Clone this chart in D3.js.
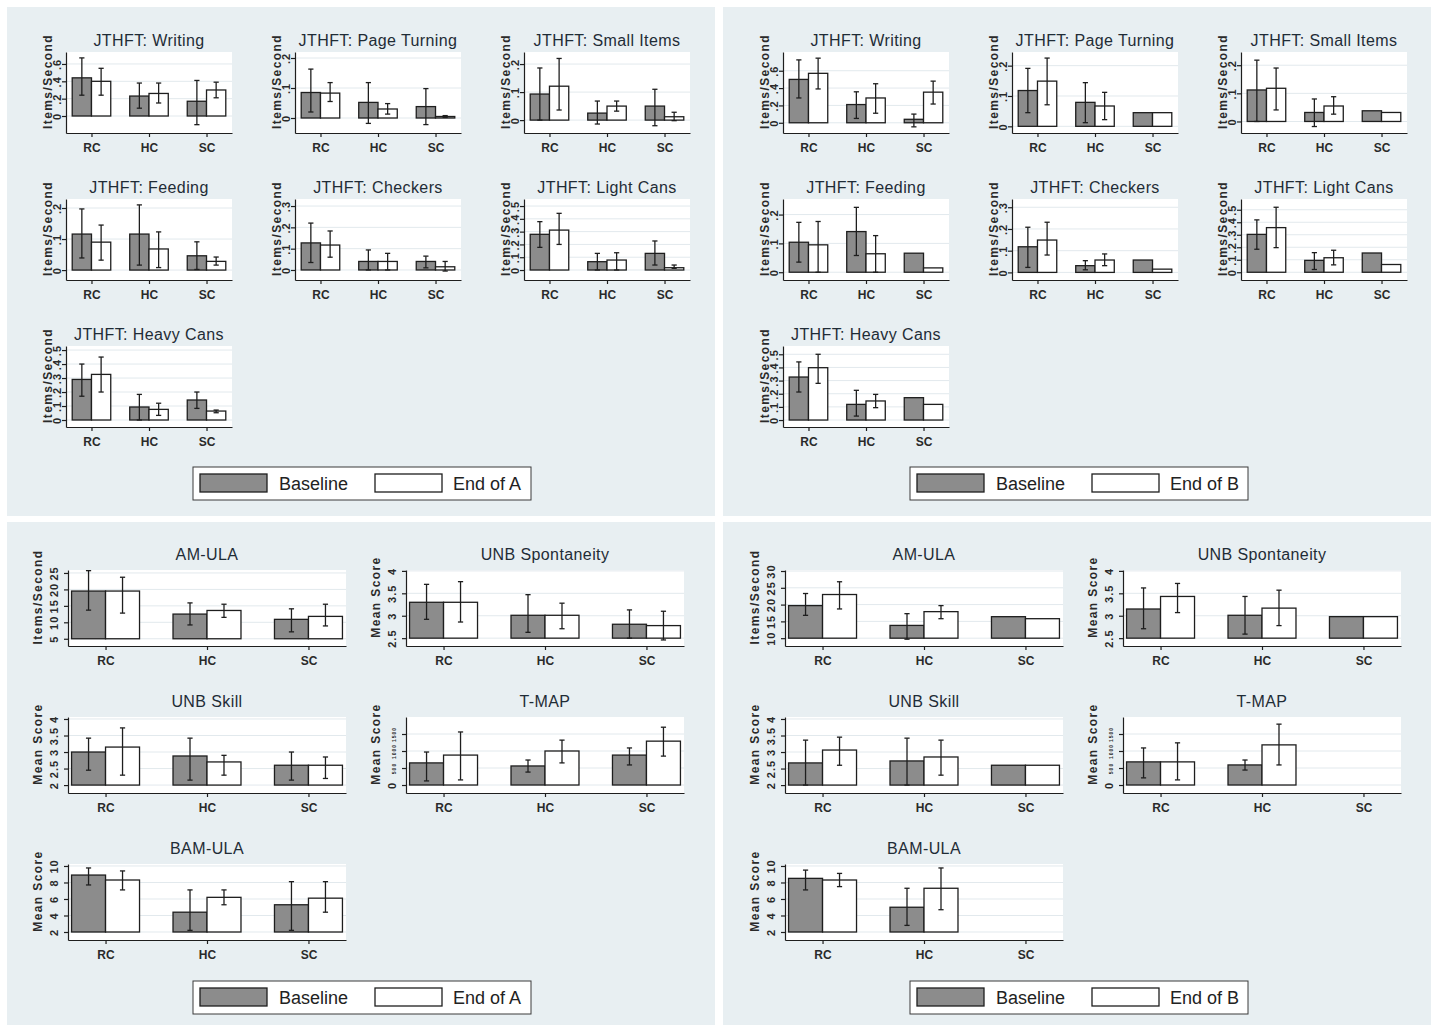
<!DOCTYPE html>
<html>
<head>
<meta charset="utf-8">
<script src="https://cdn.jsdelivr.net/npm/d3@7"></script>
<style>
  html, body { margin: 0; padding: 0; background: #ffffff; }
  svg { display: block; font-family: "Liberation Sans", Arial, sans-serif; }
</style>
</head>
<body>
<svg id="fig" width="1437" height="1027"></svg>
<script>
// ---- categories ----
const groups = ["RC", "HC", "SC"];
const legendA = ["Baseline", "End of A"];
const legendB = ["Baseline", "End of B"];

// ---- values: one [mean, lower CI, upper CI] per group (null = not plotted) ----
// Phase A, JTHFT (items/second)
const writingA_base  = [[0.44, 0.24, 0.67], [0.23, 0.09, 0.38], [0.17, -0.10, 0.41]];
const writingA_end   = [[0.40, 0.24, 0.55], [0.26, 0.15, 0.38], [0.30, 0.21, 0.39]];
const pageA_base     = [[0.085, 0.02, 0.163], [0.052, -0.018, 0.118], [0.038, -0.022, 0.098]];
const pageA_end      = [[0.083, 0.055, 0.118], [0.030, 0.013, 0.048], [0.005, 0.002, 0.008]];
const smallA_base    = [[0.093, 0.0, 0.186], [0.025, -0.014, 0.068], [0.050, -0.020, 0.110]];
const smallA_end     = [[0.121, 0.036, 0.220], [0.050, 0.032, 0.068], [0.012, -0.002, 0.028]];
const feedingA_base  = [[0.116, 0.039, 0.197], [0.116, 0.016, 0.210], [0.046, 0.002, 0.091]];
const feedingA_end   = [[0.090, 0.032, 0.145], [0.068, 0.008, 0.123], [0.028, 0.016, 0.042]];
const checkersA_base = [[0.127, 0.035, 0.220], [0.040, 0.0, 0.094], [0.040, 0.010, 0.065]];
const checkersA_end  = [[0.117, 0.060, 0.183], [0.040, 0.0, 0.078], [0.015, -0.005, 0.040]];
const lightA_base    = [[0.279, 0.177, 0.378], [0.065, 0.0, 0.130], [0.130, 0.039, 0.227]];
const lightA_end     = [[0.312, 0.200, 0.443], [0.078, 0.0, 0.135], [0.018, 0.013, 0.039]];
const heavyA_base    = [[0.290, 0.170, 0.400], [0.093, 0.0, 0.183], [0.143, 0.083, 0.200]];
const heavyA_end     = [[0.326, 0.200, 0.450], [0.076, 0.033, 0.120], [0.064, 0.052, 0.071]];

// Phase B, JTHFT (items/second)
const writingB_base  = [[0.50, 0.286, 0.725], [0.21, 0.05, 0.357], [0.04, -0.047, 0.10]];
const writingB_end   = [[0.57, 0.39, 0.745], [0.286, 0.11, 0.45], [0.353, 0.216, 0.48]];
const pageB_base     = [[0.118, 0.045, 0.191], [0.079, 0.012, 0.144], [0.045, null, null]];
const pageB_end      = [[0.149, 0.071, 0.225], [0.067, 0.022, 0.112], [0.045, null, null]];
const smallB_base    = [[0.112, 0.0, 0.218], [0.032, -0.018, 0.080], [0.038, null, null]];
const smallB_end     = [[0.118, 0.041, 0.190], [0.055, 0.026, 0.088], [0.032, null, null]];
const feedingB_base  = [[0.104, 0.035, 0.173], [0.141, 0.058, 0.225], [0.066, null, null]];
const feedingB_end   = [[0.095, 0.0, 0.176], [0.064, 0.0, 0.127], [0.015, null, null]];
const checkersB_base = [[0.118, 0.023, 0.208], [0.031, 0.012, 0.054], [0.057, null, null]];
const checkersB_end  = [[0.149, 0.080, 0.231], [0.057, 0.031, 0.085], [0.015, null, null]];
const lightB_base    = [[0.303, 0.184, 0.419], [0.095, 0.022, 0.157], [0.154, null, null]];
const lightB_end     = [[0.357, 0.197, 0.520], [0.116, 0.059, 0.176], [0.062, null, null]];
const heavyB_base    = [[0.327, 0.213, 0.442], [0.119, 0.030, 0.226], [0.170, null, null]];
const heavyB_end     = [[0.398, 0.279, 0.500], [0.145, 0.094, 0.195], [0.119, null, null]];

// Phase A, other measures
const amulaA_base    = [[19.5, 13.7, 25.7], [12.5, 9.2, 15.9], [10.9, 7.1, 14.1]];
const amulaA_end     = [[19.5, 12.8, 23.7], [13.6, 11.5, 15.5], [11.8, 8.9, 15.5]];
const sponA_base     = [[3.30, 2.92, 3.70], [3.01, 2.63, 3.47], [2.81, 2.50, 3.13]];
const sponA_end      = [[3.30, 2.86, 3.76], [3.01, 2.71, 3.28], [2.78, 2.46, 3.10]];
const skillA_base    = [[3.00, 2.45, 3.42], [2.88, 2.15, 3.42], [2.60, 2.15, 3.00]];
const skillA_end     = [[3.15, 2.30, 3.73], [2.70, 2.30, 2.90], [2.60, 2.20, 2.85]];
const tmapA_base     = [[650, 120, 970], [560, 380, 735], [880, 590, 1090]];
const tmapA_end      = [[880, 150, 1560], [1000, 650, 1320], [1290, 850, 1700]];
const bamA_base      = [[8.9, 7.7, 9.76], [4.4, 2.2, 7.1], [5.3, 2.2, 8.1]];
const bamA_end       = [[8.3, 7.1, 9.4], [6.2, 5.3, 7.1], [6.1, 4.4, 8.1]];

// Phase B, other measures
const amulaB_base    = [[19.7, 16.8, 23.3], [13.8, 9.7, 17.3], [16.4, null, null]];
const amulaB_end     = [[23.0, 18.7, 26.8], [17.9, 15.8, 19.7], [15.8, null, null]];
const sponB_base     = [[3.15, 2.71, 3.62], [3.01, 2.59, 3.43], [2.98, null, null]];
const sponB_end      = [[3.43, 3.07, 3.72], [3.17, 2.78, 3.57], [2.98, null, null]];
const skillB_base    = [[2.67, 2.00, 3.36], [2.73, 2.00, 3.42], [2.60, null, null]];
const skillB_end     = [[3.06, 2.60, 3.45], [2.85, 2.30, 3.36], [2.60, null, null]];
const tmapB_base     = [[680, 210, 1090], [590, 440, 735], null];
const tmapB_end      = [[680, 150, 1240], [1180, 590, 1790], null];
const bamB_base      = [[8.5, 7.1, 9.5], [5.0, 2.8, 7.3], null];
const bamB_end       = [[8.3, 7.5, 9.1], [7.3, 4.7, 9.76], null];

// ---- axis ticks ----
const ticksWriting  = [0, 0.2, 0.4, 0.6];
const ticksTenth2   = [0, 0.1, 0.2];
const ticksTenth3   = [0, 0.1, 0.2, 0.3];
const ticksCans     = [0, 0.1, 0.2, 0.3, 0.4, 0.5];
const ticksAmulaA   = [5, 10, 15, 20, 25];
const ticksAmulaB   = [10, 15, 20, 25, 30];
const ticksSpon     = [2.5, 3, 3.5, 4];
const ticksSkill    = [2, 2.5, 3, 3.5, 4];
const ticksTmap     = [0, 500, 1000, 1500];
const ticksBam      = [2, 4, 6, 8, 10];

// ---- chart definitions built from the arrays above ----
const topA = [
  { title: "JTHFT: Writing",      ytitle: "Items/Second", ticks: ticksWriting, domain: [-0.196, 0.738], base: 0, s: [writingA_base, writingA_end] },
  { title: "JTHFT: Page Turning", ytitle: "Items/Second", ticks: ticksTenth2,  domain: [-0.05, 0.22],   base: 0, s: [pageA_base, pageA_end] },
  { title: "JTHFT: Small Items",  ytitle: "Items/Second", ticks: ticksTenth2,  domain: [-0.046, 0.243], base: 0, s: [smallA_base, smallA_end] },
  { title: "JTHFT: Feeding",      ytitle: "Items/Second", ticks: ticksTenth2,  domain: [-0.032, 0.229], base: 0, s: [feedingA_base, feedingA_end] },
  { title: "JTHFT: Checkers",     ytitle: "Items/Second", ticks: ticksTenth3,  domain: [-0.047, 0.333], base: 0, s: [checkersA_base, checkersA_end] },
  { title: "JTHFT: Light Cans",   ytitle: "Items/Second", ticks: ticksCans,    domain: [-0.078, 0.555], base: 0, s: [lightA_base, lightA_end] },
  { title: "JTHFT: Heavy Cans",   ytitle: "Items/Second", ticks: ticksCans,    domain: [-0.05, 0.529],  base: 0, s: [heavyA_base, heavyA_end] }
];
const topB = [
  { title: "JTHFT: Writing",      ytitle: "Items/Second", ticks: ticksWriting, domain: [-0.118, 0.816], base: 0, s: [writingB_base, writingB_end] },
  { title: "JTHFT: Page Turning", ytitle: "Items/Second", ticks: ticksTenth2,  domain: [-0.022, 0.245], base: 0, s: [pageB_base, pageB_end] },
  { title: "JTHFT: Small Items",  ytitle: "Items/Second", ticks: ticksTenth2,  domain: [-0.041, 0.247], base: 0, s: [smallB_base, smallB_end] },
  { title: "JTHFT: Feeding",      ytitle: "Items/Second", ticks: ticksTenth2,  domain: [-0.027, 0.254], base: 0, s: [feedingB_base, feedingB_end] },
  { title: "JTHFT: Checkers",     ytitle: "Items/Second", ticks: ticksTenth3,  domain: [-0.035, 0.338], base: 0, s: [checkersB_base, checkersB_end] },
  { title: "JTHFT: Light Cans",   ytitle: "Items/Second", ticks: ticksCans,    domain: [-0.062, 0.586], base: 0, s: [lightB_base, lightB_end] },
  { title: "JTHFT: Heavy Cans",   ytitle: "Items/Second", ticks: ticksCans,    domain: [-0.053, 0.563], base: 0, s: [heavyB_base, heavyB_end] }
];
const botA = [
  { title: "AM-ULA",          ytitle: "Items/Second", ticks: ticksAmulaA, domain: [2.8, 25.9],    base: 5,   s: [amulaA_base, amulaA_end] },
  { title: "UNB Spontaneity", ytitle: "Mean Score",   ticks: ticksSpon,   domain: [2.325, 4.02],  base: 2.5, s: [sponA_base, sponA_end] },
  { title: "UNB Skill",       ytitle: "Mean Score",   ticks: ticksSkill,  domain: [1.76, 4.06],   base: 2,   s: [skillA_base, skillA_end] },
  { title: "T-MAP",           ytitle: "Mean Score",   ticks: ticksTmap,   domain: [-235, 2000],   base: 0,   s: [tmapA_base, tmapA_end], tinyTicks: true },
  { title: "BAM-ULA",         ytitle: "Mean Score",   ticks: ticksBam,    domain: [1.03, 10.24],  base: 2,   s: [bamA_base, bamA_end] }
];
const botB = [
  { title: "AM-ULA",          ytitle: "Items/Second", ticks: ticksAmulaB, domain: [7.67, 30.3],   base: 10,  s: [amulaB_base, amulaB_end] },
  { title: "UNB Spontaneity", ytitle: "Mean Score",   ticks: ticksSpon,   domain: [2.325, 4.02],  base: 2.5, s: [sponB_base, sponB_end] },
  { title: "UNB Skill",       ytitle: "Mean Score",   ticks: ticksSkill,  domain: [1.76, 4.06],   base: 2,   s: [skillB_base, skillB_end] },
  { title: "T-MAP",           ytitle: "Mean Score",   ticks: ticksTmap,   domain: [-235, 2000],   base: 0,   s: [tmapB_base, tmapB_end], tinyTicks: true },
  { title: "BAM-ULA",         ytitle: "Mean Score",   ticks: ticksBam,    domain: [1.03, 10.24],  base: 2,   s: [bamB_base, bamB_end] }
];

// ---- styling ----
const PANEL_BG = "#e8eff2";
const GRID = "#e2e9ed";
const INK = "#1e1e1e";
const TITLE_INK = "#1f2c36";
const BASE_FILL = "#8c8c8c";

const svg = d3.select("#fig");
svg.append("rect").attr("width", 1437).attr("height", 1027).attr("fill", "#ffffff");

// four shaded panels
const panels = [
  { x: 7,   y: 7,   w: 708, h: 509 },
  { x: 723, y: 7,   w: 708, h: 509 },
  { x: 7,   y: 522, w: 708, h: 503 },
  { x: 723, y: 522, w: 708, h: 503 }
];
svg.selectAll("rect.panel").data(panels).join("rect")
  .attr("class", "panel")
  .attr("x", d => d.x).attr("y", d => d.y)
  .attr("width", d => d.w).attr("height", d => d.h)
  .attr("fill", PANEL_BG);

// Stata-style tick labels: ".2" rather than "0.2"
const fmt = v => { const s = String(v); return s.startsWith("0.") ? s.slice(1) : s; };

function drawChart(spec, lay) {
  const g = svg.append("g");
  const { L, T, B, W, pad, big } = lay;

  const x = d3.scalePoint().domain(groups).range([L, L + W]).padding(pad);
  const step = x.step();
  const bw = step * 0.335;
  const y = d3.scaleLinear().domain(spec.domain).range([B, T]);

  // plot area
  g.append("rect").attr("x", L).attr("y", T).attr("width", W).attr("height", B - T).attr("fill", "#ffffff");

  // gridlines
  g.selectAll("line.grid").data(spec.ticks).join("line")
    .attr("x1", L).attr("x2", L + W)
    .attr("y1", d => y(d)).attr("y2", d => y(d))
    .attr("stroke", GRID).attr("stroke-width", 1);

  // bars and error bars
  const marks = [];
  spec.s.forEach((series, si) => {
    groups.forEach((grp, gi) => {
      const v = series[gi];
      if (!v) return;
      marks.push({ si, grp, mean: v[0], lo: v[1], hi: v[2] });
    });
  });
  const xPos = d => (d.si === 0 ? x(d.grp) - bw : x(d.grp));

  g.selectAll("rect.bar").data(marks).join("rect")
    .attr("x", xPos)
    .attr("y", d => y(d.mean))
    .attr("width", bw)
    .attr("height", d => y(spec.base) - y(d.mean))
    .attr("fill", d => d.si === 0 ? BASE_FILL : "#ffffff")
    .attr("stroke", INK).attr("stroke-width", 1.3);

  const errs = marks.filter(d => d.lo !== null && d.hi !== null);
  const cap = 2.6;
  const eg = g.selectAll("g.err").data(errs).join("g").attr("stroke", INK).attr("stroke-width", 1.3);
  eg.append("line")
    .attr("x1", d => xPos(d) + bw / 2).attr("x2", d => xPos(d) + bw / 2)
    .attr("y1", d => y(d.lo)).attr("y2", d => y(d.hi));
  eg.append("line")
    .attr("x1", d => xPos(d) + bw / 2 - cap).attr("x2", d => xPos(d) + bw / 2 + cap)
    .attr("y1", d => y(d.lo)).attr("y2", d => y(d.lo));
  eg.append("line")
    .attr("x1", d => xPos(d) + bw / 2 - cap).attr("x2", d => xPos(d) + bw / 2 + cap)
    .attr("y1", d => y(d.hi)).attr("y2", d => y(d.hi));

  // y axis with vertical tick labels
  const tickOff = big ? 10 : 5;
  const ya = g.append("g").attr("transform", `translate(${L},0)`)
    .call(d3.axisLeft(y).tickValues(spec.ticks).tickFormat(fmt).tickSize(4).tickSizeOuter(0));
  ya.select(".domain").attr("stroke", INK).attr("stroke-width", 1.2);
  ya.selectAll(".tick line").attr("stroke", INK).attr("stroke-width", 1.2);
  ya.selectAll(".tick text")
    .attr("transform", "rotate(-90)")
    .attr("x", 0).attr("y", -tickOff).attr("dy", 0)
    .attr("text-anchor", "middle")
    .attr("fill", "#2a2a2a")
    .style("font-family", '"Liberation Sans", Arial, sans-serif')
    .style("font-weight", "bold")
    .style("letter-spacing", "1px")
    .style("font-size", d => (spec.tinyTicks && d !== 0) ? "5px" : "11px");

  // x axis
  const xa = g.append("g").attr("transform", `translate(0,${B})`)
    .call(d3.axisBottom(x).tickSize(4).tickSizeOuter(0).tickPadding(4));
  xa.select(".domain").attr("stroke", INK).attr("stroke-width", 1.2);
  xa.selectAll(".tick line").attr("stroke", INK).attr("stroke-width", 1.2);
  xa.selectAll(".tick text")
    .attr("y", 19).attr("dy", 0)
    .attr("fill", "#2a2a2a")
    .style("font-family", '"Liberation Sans", Arial, sans-serif')
    .style("font-size", "12px")
    .style("font-weight", "bold");

  // chart title
  g.append("text")
    .attr("x", L + W / 2).attr("y", B - (big ? 86 : 87))
    .attr("text-anchor", "middle")
    .attr("fill", TITLE_INK)
    .style("font-size", "16px")
    .style("letter-spacing", "0.4px")
    .text(spec.title);

  // y-axis title
  const yt = big ? 26 : 14;
  g.append("text")
    .attr("transform", `translate(${L - yt},${(T + B) / 2 - 11}) rotate(-90)`)
    .attr("text-anchor", "middle")
    .attr("fill", "#2a2a2a")
    .style("font-size", "12px")
    .style("font-weight", "bold")
    .style("letter-spacing", "1.4px")
    .text(spec.ytitle);
}

function drawLegend(dx, top, labels) {
  const g = svg.append("g").attr("transform", `translate(${193 + dx},${top})`);
  g.append("rect").attr("width", 338).attr("height", 33)
    .attr("fill", "#ffffff").attr("stroke", "#3a3a3a").attr("stroke-width", 1);
  const items = [
    { sx: 7,   tx: 86,  fill: BASE_FILL, label: labels[0] },
    { sx: 182, tx: 260, fill: "#ffffff", label: labels[1] }
  ];
  items.forEach(it => {
    g.append("rect").attr("x", it.sx).attr("y", 7).attr("width", 67).attr("height", 18)
      .attr("fill", it.fill).attr("stroke", INK).attr("stroke-width", 1.3);
    g.append("text").attr("x", it.tx).attr("y", 23)
      .attr("fill", "#222222")
      .style("font-size", "18px")
      .text(it.label);
  });
}

// top panels: JTHFT subtests, 3 columns
[[topA, 0, legendA], [topB, 717, legendB]].forEach(([charts, dx, leg]) => {
  charts.forEach((spec, k) => {
    const col = k % 3, row = Math.floor(k / 3);
    drawChart(spec, { L: 66 + 229 * col + dx, W: 166, T: 52 + 147 * row, B: 133 + 147 * row, pad: 0.443, big: false });
  });
  drawLegend(dx, 467, leg);
});

// bottom panels: other measures, 2 columns
[[botA, 0, legendA], [botB, 717, legendB]].forEach(([charts, dx, leg]) => {
  charts.forEach((spec, k) => {
    const col = k % 2, row = Math.floor(k / 2);
    drawChart(spec, { L: 68 + 338 * col + dx, W: 278, T: 570 + 147 * row, B: 646 + 147 * row, pad: 0.37, big: true });
  });
  drawLegend(dx, 981, leg);
});
</script>
</body>
</html>
